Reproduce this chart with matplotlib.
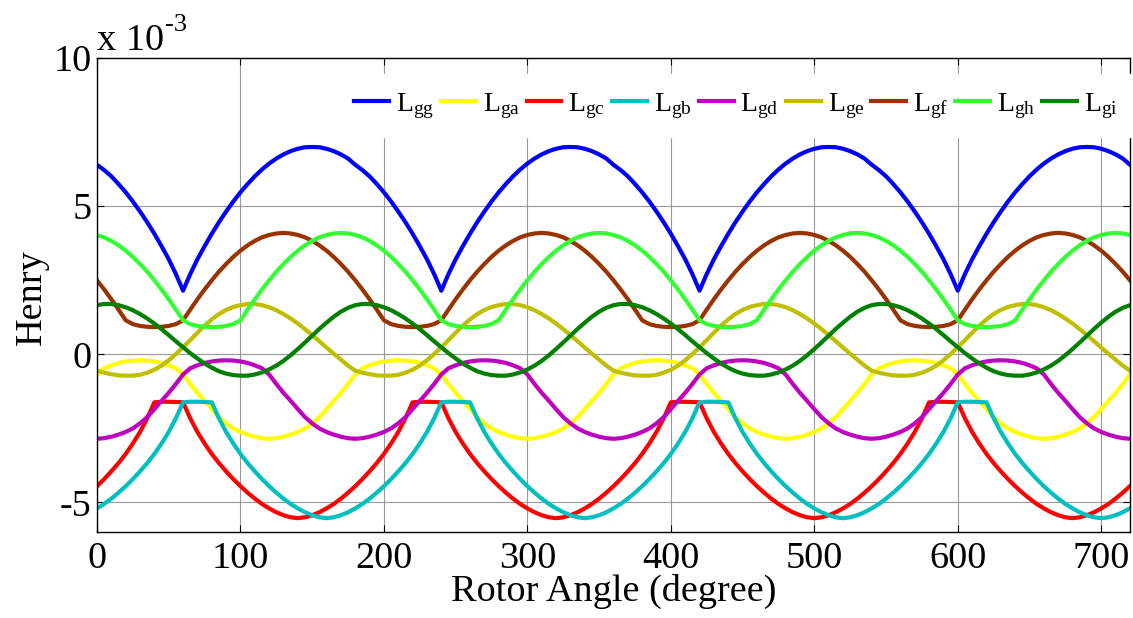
import matplotlib
matplotlib.use('Agg')
import matplotlib.pyplot as plt

# fonts (Times-like, as in the MATLAB export)
plt.rcParams['font.family'] = ['Liberation Serif', 'DejaVu Serif']
plt.rcParams['mathtext.fontset'] = 'custom'
plt.rcParams['mathtext.rm'] = 'Liberation Serif'
plt.rcParams['mathtext.it'] = 'Liberation Serif:italic'
plt.rcParams['axes.unicode_minus'] = False

# rotor angle in degree, values in 1e-3 Henry
angle = list(range(0, 721, 5))

L_gg = [6.40, 6.22, 6.01, 5.75, 5.47, 5.16, 4.82, 4.46, 4.07, 3.65, 3.21, 2.71, 2.15, 2.71, 3.21, 3.65, 4.07, 4.46, 4.82, 5.16, 5.47, 5.75, 6.01, 6.24, 6.44, 6.61, 6.75, 6.86, 6.94, 6.99, 7.00, 6.99, 6.94, 6.86, 6.75, 6.61,
        6.40, 6.22, 6.01, 5.75, 5.47, 5.16, 4.82, 4.46, 4.07, 3.65, 3.21, 2.71, 2.15, 2.71, 3.21, 3.65, 4.07, 4.46, 4.82, 5.16, 5.47, 5.75, 6.01, 6.24, 6.44, 6.61, 6.75, 6.86, 6.94, 6.99, 7.00, 6.99, 6.94, 6.86, 6.75, 6.61,
        6.40, 6.22, 6.01, 5.75, 5.47, 5.16, 4.82, 4.46, 4.07, 3.65, 3.21, 2.71, 2.15, 2.71, 3.21, 3.65, 4.07, 4.46, 4.82, 5.16, 5.47, 5.75, 6.01, 6.24, 6.44, 6.61, 6.75, 6.86, 6.94, 6.99, 7.00, 6.99, 6.94, 6.86, 6.75, 6.61,
        6.40, 6.22, 6.01, 5.75, 5.47, 5.16, 4.82, 4.46, 4.07, 3.65, 3.21, 2.71, 2.15, 2.71, 3.21, 3.65, 4.07, 4.46, 4.82, 5.16, 5.47, 5.75, 6.01, 6.24, 6.44, 6.61, 6.75, 6.86, 6.94, 6.99, 7.00, 6.99, 6.94, 6.86, 6.75, 6.61,
        6.40]

L_ga = [-0.68, -0.47, -0.37, -0.29, -0.24, -0.21, -0.20, -0.21, -0.24, -0.29, -0.37, -0.47, -0.68, -1.00, -1.30, -1.57, -1.85, -2.12, -2.33, -2.50, -2.62, -2.71, -2.78, -2.83, -2.85, -2.83, -2.78, -2.71, -2.62, -2.50, -2.33, -2.12, -1.85, -1.57, -1.30, -1.00,
        -0.68, -0.47, -0.37, -0.29, -0.24, -0.21, -0.20, -0.21, -0.24, -0.29, -0.37, -0.47, -0.68, -1.00, -1.30, -1.57, -1.85, -2.12, -2.33, -2.50, -2.62, -2.71, -2.78, -2.83, -2.85, -2.83, -2.78, -2.71, -2.62, -2.50, -2.33, -2.12, -1.85, -1.57, -1.30, -1.00,
        -0.68, -0.47, -0.37, -0.29, -0.24, -0.21, -0.20, -0.21, -0.24, -0.29, -0.37, -0.47, -0.68, -1.00, -1.30, -1.57, -1.85, -2.12, -2.33, -2.50, -2.62, -2.71, -2.78, -2.83, -2.85, -2.83, -2.78, -2.71, -2.62, -2.50, -2.33, -2.12, -1.85, -1.57, -1.30, -1.00,
        -0.68, -0.47, -0.37, -0.29, -0.24, -0.21, -0.20, -0.21, -0.24, -0.29, -0.37, -0.47, -0.68, -1.00, -1.30, -1.57, -1.85, -2.12, -2.33, -2.50, -2.62, -2.71, -2.78, -2.83, -2.85, -2.83, -2.78, -2.71, -2.62, -2.50, -2.33, -2.12, -1.85, -1.57, -1.30, -1.00,
        -0.68]

L_gc = [-4.45, -4.21, -3.95, -3.67, -3.36, -3.01, -2.62, -2.16, -1.62, -1.60, -1.60, -1.61, -1.62, -2.16, -2.62, -3.01, -3.36, -3.67, -3.95, -4.21, -4.45, -4.67, -4.87, -5.05, -5.20, -5.33, -5.43, -5.50, -5.53, -5.50, -5.43, -5.33, -5.20, -5.05, -4.87, -4.67,
        -4.45, -4.21, -3.95, -3.67, -3.36, -3.01, -2.62, -2.16, -1.62, -1.60, -1.60, -1.61, -1.62, -2.16, -2.62, -3.01, -3.36, -3.67, -3.95, -4.21, -4.45, -4.67, -4.87, -5.05, -5.20, -5.33, -5.43, -5.50, -5.53, -5.50, -5.43, -5.33, -5.20, -5.05, -4.87, -4.67,
        -4.45, -4.21, -3.95, -3.67, -3.36, -3.01, -2.62, -2.16, -1.62, -1.60, -1.60, -1.61, -1.62, -2.16, -2.62, -3.01, -3.36, -3.67, -3.95, -4.21, -4.45, -4.67, -4.87, -5.05, -5.20, -5.33, -5.43, -5.50, -5.53, -5.50, -5.43, -5.33, -5.20, -5.05, -4.87, -4.67,
        -4.45, -4.21, -3.95, -3.67, -3.36, -3.01, -2.62, -2.16, -1.62, -1.60, -1.60, -1.61, -1.62, -2.16, -2.62, -3.01, -3.36, -3.67, -3.95, -4.21, -4.45, -4.67, -4.87, -5.05, -5.20, -5.33, -5.43, -5.50, -5.53, -5.50, -5.43, -5.33, -5.20, -5.05, -4.87, -4.67,
        -4.45]

L_gb = [-5.20, -5.05, -4.87, -4.67, -4.45, -4.21, -3.95, -3.67, -3.36, -3.01, -2.62, -2.16, -1.62, -1.60, -1.60, -1.61, -1.62, -2.16, -2.62, -3.01, -3.36, -3.67, -3.95, -4.21, -4.45, -4.67, -4.87, -5.05, -5.20, -5.33, -5.43, -5.50, -5.53, -5.50, -5.43, -5.33,
        -5.20, -5.05, -4.87, -4.67, -4.45, -4.21, -3.95, -3.67, -3.36, -3.01, -2.62, -2.16, -1.62, -1.60, -1.60, -1.61, -1.62, -2.16, -2.62, -3.01, -3.36, -3.67, -3.95, -4.21, -4.45, -4.67, -4.87, -5.05, -5.20, -5.33, -5.43, -5.50, -5.53, -5.50, -5.43, -5.33,
        -5.20, -5.05, -4.87, -4.67, -4.45, -4.21, -3.95, -3.67, -3.36, -3.01, -2.62, -2.16, -1.62, -1.60, -1.60, -1.61, -1.62, -2.16, -2.62, -3.01, -3.36, -3.67, -3.95, -4.21, -4.45, -4.67, -4.87, -5.05, -5.20, -5.33, -5.43, -5.50, -5.53, -5.50, -5.43, -5.33,
        -5.20, -5.05, -4.87, -4.67, -4.45, -4.21, -3.95, -3.67, -3.36, -3.01, -2.62, -2.16, -1.62, -1.60, -1.60, -1.61, -1.62, -2.16, -2.62, -3.01, -3.36, -3.67, -3.95, -4.21, -4.45, -4.67, -4.87, -5.05, -5.20, -5.33, -5.43, -5.50, -5.53, -5.50, -5.43, -5.33,
        -5.20]

L_gd = [-2.85, -2.83, -2.78, -2.71, -2.62, -2.50, -2.33, -2.12, -1.85, -1.57, -1.30, -1.00, -0.68, -0.47, -0.37, -0.29, -0.24, -0.21, -0.20, -0.21, -0.24, -0.29, -0.37, -0.47, -0.68, -1.00, -1.30, -1.57, -1.85, -2.12, -2.33, -2.50, -2.62, -2.71, -2.78, -2.83,
        -2.85, -2.83, -2.78, -2.71, -2.62, -2.50, -2.33, -2.12, -1.85, -1.57, -1.30, -1.00, -0.68, -0.47, -0.37, -0.29, -0.24, -0.21, -0.20, -0.21, -0.24, -0.29, -0.37, -0.47, -0.68, -1.00, -1.30, -1.57, -1.85, -2.12, -2.33, -2.50, -2.62, -2.71, -2.78, -2.83,
        -2.85, -2.83, -2.78, -2.71, -2.62, -2.50, -2.33, -2.12, -1.85, -1.57, -1.30, -1.00, -0.68, -0.47, -0.37, -0.29, -0.24, -0.21, -0.20, -0.21, -0.24, -0.29, -0.37, -0.47, -0.68, -1.00, -1.30, -1.57, -1.85, -2.12, -2.33, -2.50, -2.62, -2.71, -2.78, -2.83,
        -2.85, -2.83, -2.78, -2.71, -2.62, -2.50, -2.33, -2.12, -1.85, -1.57, -1.30, -1.00, -0.68, -0.47, -0.37, -0.29, -0.24, -0.21, -0.20, -0.21, -0.24, -0.29, -0.37, -0.47, -0.68, -1.00, -1.30, -1.57, -1.85, -2.12, -2.33, -2.50, -2.62, -2.71, -2.78, -2.83,
        -2.85]

L_ge = [-0.55, -0.62, -0.67, -0.71, -0.72, -0.72, -0.69, -0.62, -0.52, -0.38, -0.20, 0.01, 0.24, 0.48, 0.73, 0.97, 1.18, 1.36, 1.50, 1.60, 1.66, 1.70, 1.70, 1.66, 1.59, 1.49, 1.36, 1.21, 1.04, 0.85, 0.65, 0.44, 0.23, 0.02, -0.18, -0.38,
        -0.55, -0.62, -0.67, -0.71, -0.72, -0.72, -0.69, -0.62, -0.52, -0.38, -0.20, 0.01, 0.24, 0.48, 0.73, 0.97, 1.18, 1.36, 1.50, 1.60, 1.66, 1.70, 1.70, 1.66, 1.59, 1.49, 1.36, 1.21, 1.04, 0.85, 0.65, 0.44, 0.23, 0.02, -0.18, -0.38,
        -0.55, -0.62, -0.67, -0.71, -0.72, -0.72, -0.69, -0.62, -0.52, -0.38, -0.20, 0.01, 0.24, 0.48, 0.73, 0.97, 1.18, 1.36, 1.50, 1.60, 1.66, 1.70, 1.70, 1.66, 1.59, 1.49, 1.36, 1.21, 1.04, 0.85, 0.65, 0.44, 0.23, 0.02, -0.18, -0.38,
        -0.55, -0.62, -0.67, -0.71, -0.72, -0.72, -0.69, -0.62, -0.52, -0.38, -0.20, 0.01, 0.24, 0.48, 0.73, 0.97, 1.18, 1.36, 1.50, 1.60, 1.66, 1.70, 1.70, 1.66, 1.59, 1.49, 1.36, 1.21, 1.04, 0.85, 0.65, 0.44, 0.23, 0.02, -0.18, -0.38,
        -0.55]

L_gf = [2.50, 2.19, 1.86, 1.51, 1.15, 1.02, 0.96, 0.93, 0.92, 0.93, 0.96, 1.02, 1.15, 1.51, 1.86, 2.19, 2.50, 2.79, 3.05, 3.29, 3.50, 3.68, 3.83, 3.95, 4.03, 4.08, 4.10, 4.08, 4.03, 3.95, 3.83, 3.68, 3.50, 3.29, 3.05, 2.79,
        2.50, 2.19, 1.86, 1.51, 1.15, 1.02, 0.96, 0.93, 0.92, 0.93, 0.96, 1.02, 1.15, 1.51, 1.86, 2.19, 2.50, 2.79, 3.05, 3.29, 3.50, 3.68, 3.83, 3.95, 4.03, 4.08, 4.10, 4.08, 4.03, 3.95, 3.83, 3.68, 3.50, 3.29, 3.05, 2.79,
        2.50, 2.19, 1.86, 1.51, 1.15, 1.02, 0.96, 0.93, 0.92, 0.93, 0.96, 1.02, 1.15, 1.51, 1.86, 2.19, 2.50, 2.79, 3.05, 3.29, 3.50, 3.68, 3.83, 3.95, 4.03, 4.08, 4.10, 4.08, 4.03, 3.95, 3.83, 3.68, 3.50, 3.29, 3.05, 2.79,
        2.50, 2.19, 1.86, 1.51, 1.15, 1.02, 0.96, 0.93, 0.92, 0.93, 0.96, 1.02, 1.15, 1.51, 1.86, 2.19, 2.50, 2.79, 3.05, 3.29, 3.50, 3.68, 3.83, 3.95, 4.03, 4.08, 4.10, 4.08, 4.03, 3.95, 3.83, 3.68, 3.50, 3.29, 3.05, 2.79,
        2.50]

L_gh = [4.03, 3.95, 3.83, 3.68, 3.50, 3.29, 3.05, 2.79, 2.50, 2.19, 1.86, 1.51, 1.15, 1.02, 0.96, 0.93, 0.92, 0.93, 0.96, 1.02, 1.15, 1.51, 1.86, 2.19, 2.50, 2.79, 3.05, 3.29, 3.50, 3.68, 3.83, 3.95, 4.03, 4.08, 4.10, 4.08,
        4.03, 3.95, 3.83, 3.68, 3.50, 3.29, 3.05, 2.79, 2.50, 2.19, 1.86, 1.51, 1.15, 1.02, 0.96, 0.93, 0.92, 0.93, 0.96, 1.02, 1.15, 1.51, 1.86, 2.19, 2.50, 2.79, 3.05, 3.29, 3.50, 3.68, 3.83, 3.95, 4.03, 4.08, 4.10, 4.08,
        4.03, 3.95, 3.83, 3.68, 3.50, 3.29, 3.05, 2.79, 2.50, 2.19, 1.86, 1.51, 1.15, 1.02, 0.96, 0.93, 0.92, 0.93, 0.96, 1.02, 1.15, 1.51, 1.86, 2.19, 2.50, 2.79, 3.05, 3.29, 3.50, 3.68, 3.83, 3.95, 4.03, 4.08, 4.10, 4.08,
        4.03, 3.95, 3.83, 3.68, 3.50, 3.29, 3.05, 2.79, 2.50, 2.19, 1.86, 1.51, 1.15, 1.02, 0.96, 0.93, 0.92, 0.93, 0.96, 1.02, 1.15, 1.51, 1.86, 2.19, 2.50, 2.79, 3.05, 3.29, 3.50, 3.68, 3.83, 3.95, 4.03, 4.08, 4.10, 4.08,
        4.03]

L_gi = [1.66, 1.70, 1.70, 1.66, 1.59, 1.49, 1.36, 1.21, 1.04, 0.85, 0.65, 0.44, 0.24, 0.04, -0.14, -0.31, -0.45, -0.57, -0.65, -0.70, -0.72, -0.72, -0.68, -0.61, -0.51, -0.38, -0.22, -0.03, 0.18, 0.40, 0.63, 0.86, 1.07, 1.27, 1.44, 1.57,
        1.66, 1.70, 1.70, 1.66, 1.59, 1.49, 1.36, 1.21, 1.04, 0.85, 0.65, 0.44, 0.24, 0.04, -0.14, -0.31, -0.45, -0.57, -0.65, -0.70, -0.72, -0.72, -0.68, -0.61, -0.51, -0.38, -0.22, -0.03, 0.18, 0.40, 0.63, 0.86, 1.07, 1.27, 1.44, 1.57,
        1.66, 1.70, 1.70, 1.66, 1.59, 1.49, 1.36, 1.21, 1.04, 0.85, 0.65, 0.44, 0.24, 0.04, -0.14, -0.31, -0.45, -0.57, -0.65, -0.70, -0.72, -0.72, -0.68, -0.61, -0.51, -0.38, -0.22, -0.03, 0.18, 0.40, 0.63, 0.86, 1.07, 1.27, 1.44, 1.57,
        1.66, 1.70, 1.70, 1.66, 1.59, 1.49, 1.36, 1.21, 1.04, 0.85, 0.65, 0.44, 0.24, 0.04, -0.14, -0.31, -0.45, -0.57, -0.65, -0.70, -0.72, -0.72, -0.68, -0.61, -0.51, -0.38, -0.22, -0.03, 0.18, 0.40, 0.63, 0.86, 1.07, 1.27, 1.44, 1.57,
        1.66]

names = ['gg', 'ga', 'gc', 'gb', 'gd', 'ge', 'gf', 'gh', 'gi']
values = [L_gg, L_ga, L_gc, L_gb, L_gd, L_ge, L_gf, L_gh, L_gi]
colors = [(0, 0, 1), (1, 1, 0), (1, 0, 0), (0, 0.75, 0.75), (0.75, 0, 0.75),
          (0.75, 0.75, 0), (0.6, 0.2, 0), (0.2, 1, 0.2), (0, 0.5, 0)]

W, H = 1133, 618
fs = 27.5
fig = plt.figure(figsize=(W / 100, H / 100), dpi=100)
ax = fig.add_axes([0.0856, 0.139, 0.9117, 0.767])

for v, n, c in zip(values, names, colors):
    ax.plot(angle, v, color=c, lw=3, label=r'L$_{\mathregular{%s}}$' % n)

ax.set_xlim(0, 720)
ax.set_ylim(-6, 10)
ax.set_xticks(range(0, 701, 100))
ax.set_yticks([-5, 0, 5, 10])
ax.tick_params(direction='in', length=5, width=0.8, top=True, right=True,
               labelsize=fs)
ax.tick_params(axis='x', pad=7)
ax.tick_params(axis='y', pad=4)
ax.grid(True, color='0.6', lw=0.8)
for s in ax.spines.values():
    s.set_linewidth(1.0)

ax.set_xlabel('Rotor Angle (degree)', fontsize=fs, labelpad=-2)
fig.text(0.028, 0.52, 'Henry', rotation=90, fontsize=fs, ha='center', va='center')

# "x 10^-3" multiplier, with a plain hyphen in the exponent
mult = fig.text(0.0856, 0.919, 'x 10', fontsize=fs, va='baseline')
fig.canvas.draw()
bb = mult.get_window_extent()
fig.text(bb.x1 / W + 0.001, 0.95, '-3', fontsize=19, va='baseline')

leg = ax.legend(ncol=9, loc='upper right', bbox_to_anchor=(1.018, 0.995),
                fontsize=20, frameon=True, fancybox=False, edgecolor='white',
                facecolor='white', framealpha=1, handlelength=1.25,
                handletextpad=0.25, columnspacing=0.25, borderpad=0.6)

fig.savefig('out.png', dpi=100)
